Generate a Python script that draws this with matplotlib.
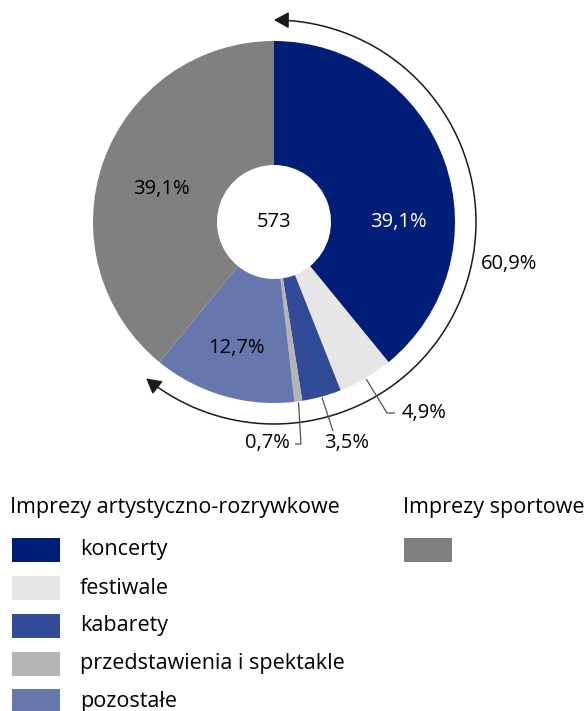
import numpy as np
import matplotlib
matplotlib.use("Agg")
import matplotlib.pyplot as plt
from matplotlib.patches import FancyArrowPatch, Rectangle
from matplotlib.path import Path

plt.rcParams['font.family'] = ['Open Sans', 'DejaVu Sans']

# ---- data ----
categories = ["koncerty", "festiwale", "kabarety", "przedstawienia i spektakle", "pozostałe", "Imprezy sportowe"]
values = [39.1, 4.9, 3.5, 0.7, 12.7, 39.1]
labels = ["39,1%", "4,9%", "3,5%", "0,7%", "12,7%", "39,1%"]
colors = ["#001e78", "#e6e6e6", "#324b96", "#b4b4b4", "#6677ad", "#808080"]
total_events = "573"
group_share = 60.9
group_label = "60,9%"
legend_group1 = "Imprezy artystyczno-rozrywkowe"
legend_group2 = "Imprezy sportowe"

W, H = 587, 711
fig = plt.figure(figsize=(W / 100, H / 100), dpi=100)
ax = fig.add_axes([0, 0, 1, 1])

def Y(py):
    return H - py

cx, cy = 274, 222
R, r_in = 181, 57

ax.pie(values, colors=colors, startangle=90, counterclock=False, radius=R,
       center=(cx, Y(cy)), wedgeprops=dict(width=R - r_in, edgecolor='none', linewidth=0))

fs = 14.5
fsl = 15.5
ax.text(cx, Y(cy), total_events, ha='center', va='center', fontsize=fs, color='black')

# in-slice labels
inner_pos = {0: (398, 222, 'white'), 5: (161, 189, 'black'), 4: (236, 348, 'black')}
for i, (px, py, c) in inner_pos.items():
    ax.text(px, Y(py), labels[i], ha='center', va='center', fontsize=fs, color=c)

# outside labels with leaders
cum = np.cumsum([0] + values[:-1])
def edge_point(i, rad):
    ang = np.deg2rad(90 - 360 * (cum[i] + values[i] / 2) / 100)
    return cx + rad * np.cos(ang), Y(cy) + rad * np.sin(ang)

leaders = {
    1: [(387, 413), (395, 413)],
    2: [(333, 431)],
    3: [(301, 444), (295, 444)],
}
text_pos = {1: (402, 413, 'left'), 2: (347, 443, 'center'), 3: (290, 443, 'right')}
for i, pts in leaders.items():
    x0, y0 = edge_point(i, R + 1)
    xs = [x0] + [p[0] for p in pts]
    ys = [y0] + [Y(p[1]) for p in pts]
    ax.plot(xs, ys, color='#505050', lw=0.9, solid_capstyle='butt')
    tx, ty, ha = text_pos[i]
    ax.text(tx, Y(ty), labels[i], ha=ha, va='center', fontsize=fs, color='black')

# arc arrow for the group share
Ra = 202
a0 = 90
a1 = 90 - 360 * group_share / 100
angs = np.deg2rad(np.linspace(a1, a0, 200))
verts = np.column_stack([cx + Ra * np.cos(angs), Y(cy) + Ra * np.sin(angs)])
path = Path(verts)
arr = FancyArrowPatch(path=path, arrowstyle='<|-|>,head_length=9,head_width=5',
                      color='#1a1a1a', lw=1.1, shrinkA=0, shrinkB=0, mutation_scale=1)
ax.add_patch(arr)
ax.text(481, Y(264), group_label, ha='left', va='center', fontsize=fs, color='black')

# legend
ax.text(10, Y(507), legend_group1, ha='left', va='center', fontsize=fsl, color='black')
ax.text(403, Y(507), legend_group2, ha='left', va='center', fontsize=fsl, color='black')
rows_y = [550, 588, 626, 664, 701]
for i, yy in enumerate(rows_y):
    ax.add_patch(Rectangle((12, Y(yy) - 12), 48, 24, facecolor=colors[i], edgecolor='none'))
    ax.text(80, Y(yy), categories[i], ha='left', va='center', fontsize=fsl, color='black')
ax.add_patch(Rectangle((404, Y(550) - 12), 48, 24, facecolor=colors[5], edgecolor='none'))

ax.set_xlim(0, W)
ax.set_ylim(0, H)
ax.set_aspect('equal')
ax.axis('off')
fig.savefig("out.png", dpi=100)
